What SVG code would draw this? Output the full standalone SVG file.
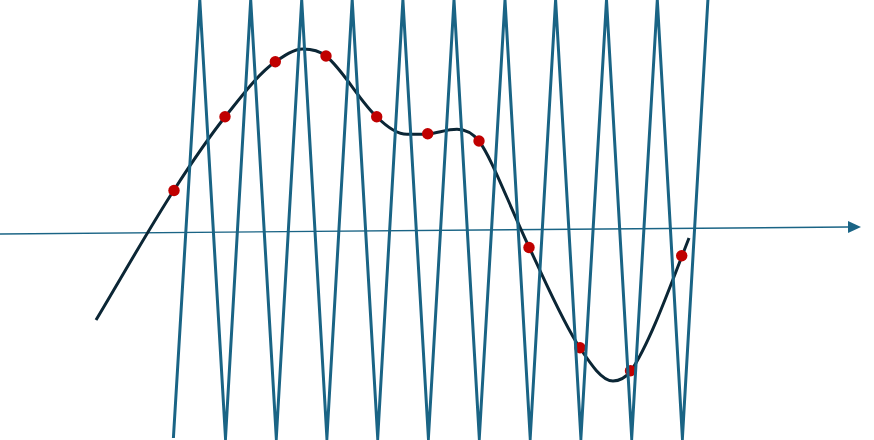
<svg xmlns="http://www.w3.org/2000/svg" width="874" height="440" viewBox="0 0 874 440">
<style>
.zig{fill:none;stroke:#1a6485;stroke-width:3;stroke-linejoin:miter;stroke-miterlimit:30}
.axis{fill:none;stroke:#1a6485;stroke-width:1.4}
.curve{fill:none;stroke:#0b2635;stroke-width:3;stroke-linecap:butt}
.dot{fill:#c00000}
</style>
<defs>
<marker id="arr" viewBox="0 0 13 12" refX="0" refY="6" markerWidth="13" markerHeight="12" markerUnits="userSpaceOnUse" orient="auto">
<path d="M0,0 L13,6 L0,12 Z" fill="#1a6485"/>
</marker>
</defs>
<rect width="874" height="440" fill="#ffffff"/>
<g id="axis">
<line class="axis" x1="0" y1="234" x2="848" y2="227" marker-end="url(#arr)"/>
</g>
<g id="signal">
<path class="curve" d="M96,320 C122,276.6 148,230.3 174,190 C191,163.6 208,138.3 225,117 C241.7,96.2 258.3,73.7 275,62 C284.3,55.5 293.7,49 303,49 C310.7,49 318.3,49.9 326,56 C343,69.6 360,101.7 377,117 C387,127 397,134.3 407,134.3 C414,134.3 421,134.3 428,134 C438,133 447,129.3 457,129.3 C465,129.3 472,132.6 479,141 C491,157 505,195 529,247 C546,282.7 563,322.5 580,348 C591,364.5 602,381 613,381 C619,381 625,378.2 631,371 C648,345.5 665,300.2 682,256 C684.3,250 686.7,244 689,238"/>
</g>
<g id="samples">
<circle class="dot" cx="174" cy="190.5" r="5.7"/>
<circle class="dot" cx="225" cy="116.8" r="5.7"/>
<circle class="dot" cx="275.3" cy="61.7" r="5.7"/>
<circle class="dot" cx="326" cy="56" r="5.7"/>
<circle class="dot" cx="376.7" cy="116.7" r="5.7"/>
<circle class="dot" cx="427.7" cy="133.7" r="5.7"/>
<circle class="dot" cx="479" cy="141" r="5.7"/>
<circle class="dot" cx="529" cy="247.5" r="5.7"/>
<circle class="dot" cx="580" cy="347.7" r="5.7"/>
<circle class="dot" cx="630.5" cy="370.7" r="5.7"/>
<circle class="dot" cx="681.7" cy="255.8" r="5.7"/>
</g>
<g id="sampling-wave">
<polyline class="zig" points="173.4,438 199.8,0 225.5,438 250.7,0 276.3,438 301.7,0 326.9,438 352.2,0 377.7,438 402.9,0 428.4,438 454,0 479.3,438 505,0 530.2,438 555.6,0 580.9,438 606.5,0 631.7,438 657.3,0 682.4,438 707.9,0"/>
</g>
</svg>
